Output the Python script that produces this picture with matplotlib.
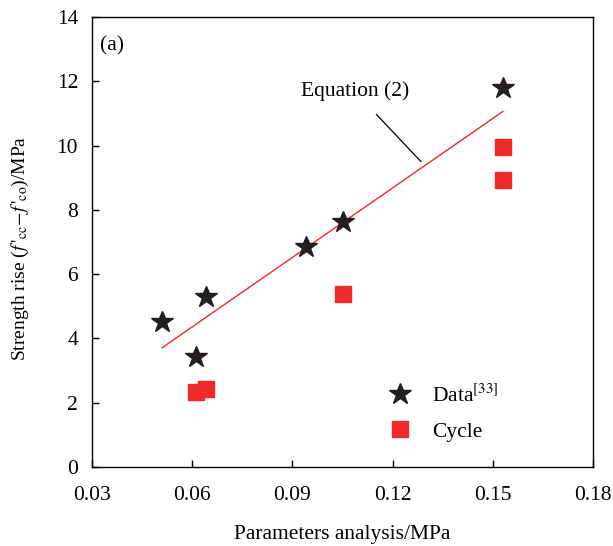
import numpy as np
from matplotlib import pyplot as plt

# data
star_x = [0.051, 0.061, 0.064, 0.094, 0.105, 0.153]
star_y = [4.52, 3.43, 5.30, 6.85, 7.63, 11.78]
cycle_x = [0.061, 0.064, 0.105, 0.153, 0.153]
cycle_y = [2.34, 2.43, 5.39, 9.97, 8.94]
eq_x = [0.051, 0.153]
eq_y = [3.71, 11.06]

xticks = [0.03, 0.06, 0.09, 0.12, 0.15, 0.18]
xtick_labels = ['0.03', '0.06', '0.09', '0.12', '0.15', '0.18']
yticks = [0, 2, 4, 6, 8, 10, 12, 14]

params = {'font.family': 'Liberation Serif',
          'mathtext.fontset': 'stix',
          'font.size': 15.5,
          'axes.linewidth': 1.0}
plt.rcParams.update(params)

fig = plt.figure(figsize=(6.13, 5.46), dpi=100)
ax = fig.add_axes([92/613, 1-467/546, (593-92)/613, (467-17)/546])

ax.plot(eq_x, eq_y, '-', color='#ee2a2a', linewidth=1.0)
ax.plot(star_x, star_y, '*', color='#231f20', markersize=16.5,
        linestyle='none', label=r'Data$^{[33]}$')
ax.plot(cycle_x, cycle_y, 's', color='#ee2a2a', markersize=12,
        linestyle='none', label='Cycle')

ax.annotate('Equation (2)', xy=(0.1285, 9.5), xytext=(0.1087, 11.68),
            ha='center', va='center', fontsize=15.5,
            arrowprops=dict(arrowstyle='-', color='black', lw=0.9,
                            shrinkA=10, shrinkB=0))

ax.text(0.0325, 13.4, '(a)', ha='left', va='top', fontsize=15.5)

ax.set_xlim(0.03, 0.18)
ax.set_ylim(0, 14)
ax.set_xticks(xticks)
ax.set_xticklabels(xtick_labels)
ax.set_yticks(yticks)
ax.tick_params(axis='both', direction='in', length=5, width=1,
               labelsize=15.5, pad=14)
ax.tick_params(axis='y', pad=10)

ax.set_xlabel('Parameters analysis/MPa', fontsize=15.5, labelpad=14)
ax.set_ylabel(r"Strength rise ($f\,'_{\rm cc}\!-\!f\,'_{\rm co}$)/MPa",
              fontsize=14)
ax.yaxis.set_label_coords(-0.122, 0.485)

ax.legend(loc='lower right', bbox_to_anchor=(0.842, 0.023), frameon=False,
          fontsize=15.5, handletextpad=0.5, labelspacing=0.7, borderpad=0.2)

fig.savefig('out.png', dpi=100)
